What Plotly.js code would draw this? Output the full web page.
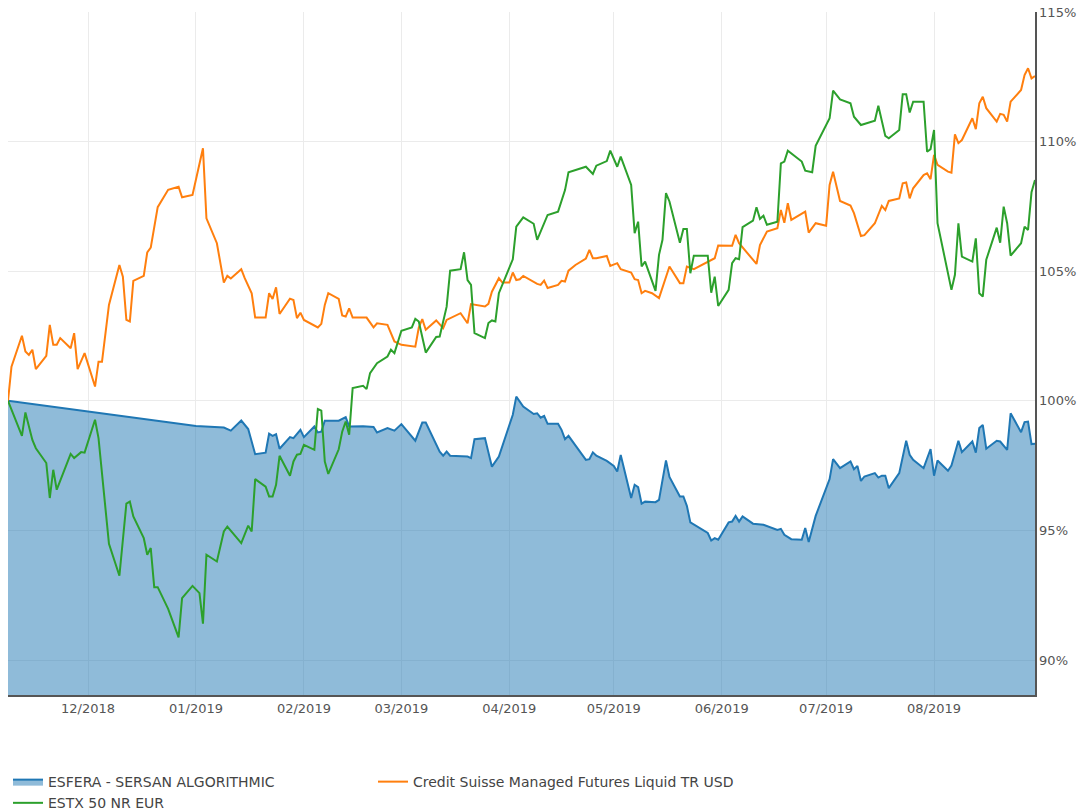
<!DOCTYPE html>
<html>
<head>
<meta charset="utf-8">
<script src="https://cdn.plot.ly/plotly-3.0.1.min.js"></script>
<style>html,body{margin:0;padding:0;background:#fff;}#chart{width:1085px;height:812px;}</style>
</head>
<body>
<div id="chart"></div>
<script>
// ---- Series names ----
const seriesNames = ["ESFERA - SERSAN ALGORITHMIC", "Credit Suisse Managed Futures Liquid TR USD", "ESTX 50 NR EUR"];

// ---- ESFERA - SERSAN ALGORITHMIC ----
const esferaDates = ["2018-11-08","2019-01-01","2019-01-09","2019-01-11","2019-01-14","2019-01-16","2019-01-18","2019-01-21","2019-01-22","2019-01-23","2019-01-24","2019-01-25","2019-01-28","2019-01-29","2019-01-31","2019-02-01","2019-02-04","2019-02-05","2019-02-06","2019-02-07","2019-02-11","2019-02-13","2019-02-14","2019-02-18","2019-02-21","2019-02-22","2019-02-25","2019-02-27","2019-03-01","2019-03-05","2019-03-07","2019-03-08","2019-03-12","2019-03-13","2019-03-14","2019-03-15","2019-03-20","2019-03-21","2019-03-22","2019-03-25","2019-03-27","2019-03-29","2019-04-02","2019-04-03","2019-04-05","2019-04-08","2019-04-09","2019-04-10","2019-04-11","2019-04-12","2019-04-15","2019-04-16","2019-04-17","2019-04-18","2019-04-23","2019-04-24","2019-04-25","2019-04-26","2019-04-29","2019-05-01","2019-05-02","2019-05-03","2019-05-06","2019-05-07","2019-05-08","2019-05-09","2019-05-10","2019-05-13","2019-05-14","2019-05-15","2019-05-16","2019-05-17","2019-05-20","2019-05-21","2019-05-22","2019-05-23","2019-05-28","2019-05-29","2019-05-30","2019-05-31","2019-06-03","2019-06-04","2019-06-05","2019-06-06","2019-06-07","2019-06-10","2019-06-13","2019-06-17","2019-06-18","2019-06-19","2019-06-21","2019-06-24","2019-06-25","2019-06-26","2019-06-28","2019-07-02","2019-07-03","2019-07-05","2019-07-08","2019-07-09","2019-07-10","2019-07-11","2019-07-12","2019-07-15","2019-07-16","2019-07-17","2019-07-18","2019-07-19","2019-07-22","2019-07-24","2019-07-25","2019-07-26","2019-07-29","2019-07-31","2019-08-01","2019-08-02","2019-08-05","2019-08-06","2019-08-08","2019-08-09","2019-08-12","2019-08-13","2019-08-14","2019-08-15","2019-08-16","2019-08-19","2019-08-20","2019-08-22","2019-08-23","2019-08-26","2019-08-27","2019-08-28","2019-08-29","2019-08-30"];
const esferaValues = [100.00,99.03,98.97,98.85,99.24,98.91,97.94,98.00,98.73,98.65,98.71,98.15,98.60,98.56,98.88,98.60,99.01,98.78,98.81,99.23,99.23,99.37,99.01,99.02,98.99,98.78,98.95,98.85,99.10,98.46,99.16,99.16,98.04,97.88,98.04,97.88,97.85,97.79,98.52,98.56,97.46,97.85,99.46,100.16,99.78,99.49,99.52,99.35,99.42,99.11,99.11,98.88,98.52,98.65,97.72,97.75,98.01,97.88,97.68,97.49,97.27,97.91,96.25,96.76,96.67,96.03,96.11,96.09,96.18,96.95,97.70,97.06,96.31,96.31,95.95,95.31,94.90,94.61,94.70,94.64,95.31,95.34,95.56,95.34,95.54,95.26,95.22,95.02,95.06,94.83,94.66,94.64,95.09,94.55,95.56,96.98,97.75,97.40,97.66,97.36,97.49,96.91,97.08,97.21,97.04,97.11,97.11,96.63,97.21,98.46,97.92,97.72,97.40,98.14,97.11,97.70,97.30,97.50,98.46,98.02,98.43,98.00,98.95,99.07,98.15,98.46,98.43,98.11,99.52,98.79,99.18,99.20,98.33,98.34];

// ---- Credit Suisse Managed Futures Liquid TR USD ----
const csDates = ["2018-11-08","2018-11-09","2018-11-12","2018-11-13","2018-11-14","2018-11-15","2018-11-16","2018-11-19","2018-11-20","2018-11-21","2018-11-22","2018-11-23","2018-11-26","2018-11-27","2018-11-28","2018-11-30","2018-12-03","2018-12-04","2018-12-05","2018-12-07","2018-12-10","2018-12-11","2018-12-12","2018-12-13","2018-12-14","2018-12-17","2018-12-18","2018-12-19","2018-12-21","2018-12-24","2018-12-27","2018-12-28","2018-12-31","2019-01-03","2019-01-04","2019-01-07","2019-01-09","2019-01-10","2019-01-11","2019-01-14","2019-01-15","2019-01-17","2019-01-18","2019-01-21","2019-01-22","2019-01-23","2019-01-24","2019-01-25","2019-01-28","2019-01-29","2019-01-30","2019-01-31","2019-02-01","2019-02-05","2019-02-06","2019-02-07","2019-02-08","2019-02-11","2019-02-12","2019-02-13","2019-02-14","2019-02-15","2019-02-19","2019-02-21","2019-02-22","2019-02-25","2019-02-27","2019-03-01","2019-03-05","2019-03-06","2019-03-07","2019-03-08","2019-03-11","2019-03-13","2019-03-14","2019-03-18","2019-03-20","2019-03-21","2019-03-25","2019-03-26","2019-03-27","2019-03-29","2019-03-30","2019-04-01","2019-04-02","2019-04-03","2019-04-04","2019-04-05","2019-04-09","2019-04-10","2019-04-11","2019-04-12","2019-04-15","2019-04-16","2019-04-17","2019-04-18","2019-04-20","2019-04-23","2019-04-24","2019-04-25","2019-04-26","2019-04-29","2019-04-30","2019-05-02","2019-05-03","2019-05-06","2019-05-07","2019-05-08","2019-05-09","2019-05-10","2019-05-12","2019-05-14","2019-05-17","2019-05-20","2019-05-21","2019-05-22","2019-05-24","2019-05-30","2019-05-31","2019-06-04","2019-06-05","2019-06-06","2019-06-11","2019-06-12","2019-06-14","2019-06-17","2019-06-18","2019-06-19","2019-06-20","2019-06-21","2019-06-25","2019-06-26","2019-06-28","2019-07-01","2019-07-02","2019-07-03","2019-07-05","2019-07-08","2019-07-09","2019-07-11","2019-07-12","2019-07-15","2019-07-17","2019-07-18","2019-07-19","2019-07-22","2019-07-23","2019-07-24","2019-07-25","2019-07-26","2019-07-29","2019-07-30","2019-07-31","2019-08-01","2019-08-02","2019-08-05","2019-08-06","2019-08-07","2019-08-08","2019-08-09","2019-08-12","2019-08-13","2019-08-14","2019-08-15","2019-08-16","2019-08-19","2019-08-20","2019-08-21","2019-08-22","2019-08-23","2019-08-26","2019-08-27","2019-08-28","2019-08-29","2019-08-30"];
const csValues = [100.00,101.32,102.51,101.90,101.77,101.97,101.22,101.73,102.93,102.16,102.16,102.42,102.03,102.61,101.22,101.84,100.55,101.51,101.51,103.70,105.24,104.79,103.12,103.06,104.63,104.82,105.73,105.91,107.47,108.14,108.26,107.85,107.94,109.74,107.04,106.08,104.56,104.82,104.72,105.08,104.73,104.15,103.21,103.21,104.15,103.93,104.38,103.35,103.94,103.89,103.19,103.40,103.12,102.83,102.97,103.70,104.15,103.93,103.29,103.25,103.57,103.21,103.21,102.83,102.99,102.93,102.29,102.16,102.09,102.83,103.15,102.74,103.10,102.80,103.12,103.38,102.99,103.73,103.64,103.74,104.21,104.73,104.56,104.56,104.95,104.66,104.69,104.82,104.51,104.47,104.64,104.35,104.47,104.63,104.60,105.02,105.24,105.49,105.82,105.50,105.50,105.59,105.20,105.31,105.08,104.95,104.69,104.66,104.15,104.24,104.15,103.96,105.18,104.54,104.54,105.18,105.08,105.50,105.99,105.98,106.40,106.08,105.28,106.01,106.53,106.66,107.36,106.87,107.62,106.98,107.30,106.49,106.85,106.75,108.33,108.84,107.71,107.53,107.24,106.36,106.39,106.85,107.52,107.36,107.71,107.81,108.39,108.42,107.81,108.20,108.71,108.78,108.55,109.49,109.10,108.84,108.80,110.28,109.94,110.06,110.90,110.48,111.48,111.73,111.29,110.77,111.07,111.03,110.77,111.54,111.99,112.57,112.83,112.44,112.53];

// ---- ESTX 50 NR EUR ----
const estxDates = ["2018-11-08","2018-11-12","2018-11-13","2018-11-15","2018-11-16","2018-11-19","2018-11-20","2018-11-21","2018-11-22","2018-11-26","2018-11-27","2018-11-29","2018-11-30","2018-12-03","2018-12-04","2018-12-07","2018-12-10","2018-12-12","2018-12-13","2018-12-14","2018-12-17","2018-12-18","2018-12-19","2018-12-20","2018-12-21","2018-12-24","2018-12-27","2018-12-28","2018-12-31","2019-01-02","2019-01-03","2019-01-04","2019-01-07","2019-01-09","2019-01-10","2019-01-14","2019-01-16","2019-01-17","2019-01-18","2019-01-21","2019-01-22","2019-01-23","2019-01-24","2019-01-25","2019-01-28","2019-01-29","2019-01-30","2019-01-31","2019-02-01","2019-02-04","2019-02-05","2019-02-06","2019-02-07","2019-02-08","2019-02-11","2019-02-12","2019-02-13","2019-02-14","2019-02-15","2019-02-18","2019-02-19","2019-02-20","2019-02-22","2019-02-25","2019-02-26","2019-02-27","2019-03-01","2019-03-04","2019-03-05","2019-03-06","2019-03-08","2019-03-11","2019-03-12","2019-03-14","2019-03-15","2019-03-18","2019-03-19","2019-03-20","2019-03-21","2019-03-22","2019-03-25","2019-03-26","2019-03-27","2019-03-28","2019-03-29","2019-04-02","2019-04-03","2019-04-05","2019-04-08","2019-04-09","2019-04-12","2019-04-15","2019-04-17","2019-04-18","2019-04-23","2019-04-25","2019-04-26","2019-04-29","2019-04-30","2019-05-02","2019-05-03","2019-05-06","2019-05-07","2019-05-08","2019-05-09","2019-05-10","2019-05-13","2019-05-14","2019-05-15","2019-05-16","2019-05-17","2019-05-20","2019-05-21","2019-05-22","2019-05-23","2019-05-24","2019-05-28","2019-05-29","2019-05-30","2019-05-31","2019-06-03","2019-06-04","2019-06-05","2019-06-06","2019-06-07","2019-06-10","2019-06-11","2019-06-12","2019-06-13","2019-06-14","2019-06-17","2019-06-18","2019-06-19","2019-06-20","2019-06-24","2019-06-25","2019-06-27","2019-06-28","2019-07-02","2019-07-03","2019-07-05","2019-07-08","2019-07-09","2019-07-11","2019-07-15","2019-07-16","2019-07-18","2019-07-19","2019-07-22","2019-07-23","2019-07-24","2019-07-25","2019-07-26","2019-07-29","2019-07-30","2019-07-31","2019-08-01","2019-08-02","2019-08-06","2019-08-07","2019-08-08","2019-08-09","2019-08-12","2019-08-13","2019-08-14","2019-08-15","2019-08-16","2019-08-19","2019-08-20","2019-08-21","2019-08-22","2019-08-23","2019-08-26","2019-08-27","2019-08-28","2019-08-29","2019-08-30"];
const estxValues = [100.00,98.65,99.55,98.49,98.17,97.60,96.25,97.34,96.57,97.95,97.79,98.02,98.00,99.27,98.56,94.48,93.25,96.03,96.11,95.54,94.70,94.06,94.32,92.81,92.81,91.97,90.87,92.39,92.86,92.58,91.40,94.06,93.80,94.96,95.15,94.51,95.18,94.96,96.98,96.69,96.31,96.31,96.76,97.88,97.11,97.66,97.92,97.95,98.30,98.11,99.68,99.62,97.66,97.18,98.13,98.81,99.20,98.69,100.49,100.58,100.45,101.07,101.45,101.71,101.97,101.84,102.70,102.83,103.16,103.06,101.86,102.46,102.48,103.63,105.02,105.08,105.73,104.66,104.47,102.61,102.42,103.00,103.10,103.06,104.15,105.46,106.72,107.08,106.83,106.21,107.17,107.30,108.13,108.82,109.03,108.75,109.07,109.25,109.65,109.03,109.42,108.33,106.47,106.91,105.18,105.37,104.24,105.63,106.21,108.01,107.69,106.10,106.63,106.63,104.92,105.60,105.60,104.17,104.79,103.66,104.28,105.31,105.50,105.46,106.70,106.95,107.47,107.02,107.14,106.79,106.91,109.16,109.23,109.65,109.23,108.88,108.82,109.84,110.90,111.97,111.63,111.48,110.96,110.64,110.81,111.38,110.22,110.13,110.45,111.83,111.83,111.12,111.54,111.54,109.61,109.71,110.45,106.85,104.28,104.86,106.85,105.56,105.37,106.27,104.15,104.02,105.44,106.68,106.10,107.49,106.85,105.60,106.08,106.72,106.59,108.05,108.52];

// ---- Axis ticks ----
const yTickValues = [90, 95, 100, 105, 110, 115];
const yTickLabels = ["90%", "95%", "100%", "105%", "110%", "115%"];

const traces = [
  {
    x: esferaDates, y: esferaValues, name: seriesNames[0], type: "scatter", mode: "lines",
    line: {color: "#1f77b4", width: 2}, fill: "tozeroy", fillcolor: "rgba(31,119,180,0.5)"
  },
  {
    x: csDates, y: csValues, name: seriesNames[1], type: "scatter", mode: "lines",
    line: {color: "#ff7f0e", width: 2}
  },
  {
    x: estxDates, y: estxValues, name: seriesNames[2], type: "scatter", mode: "lines",
    line: {color: "#2ca02c", width: 2}
  }
];

const layout = {
  width: 1085, height: 812,
  margin: {l: 8, r: 50, t: 12, b: 117, autoexpand: false},
  paper_bgcolor: "#ffffff", plot_bgcolor: "#ffffff",
  font: {family: "DejaVu Sans, Verdana, sans-serif", size: 12, color: "#555"},
  showlegend: true,
  hovermode: false,
  xaxis: {
    type: "date",
    range: ["2018-11-08", "2019-08-30"],
    dtick: "M1", tick0: "2018-12-01",
    tickformat: "%m/%Y",
    showgrid: true, gridcolor: "#ebebeb", gridwidth: 1,
    showline: true, linecolor: "#555", linewidth: 2,
    ticks: "", zeroline: false,
    tickfont: {size: 13, color: "#555"}
  },
  yaxis: {
    side: "right",
    range: [88.65, 115],
    tickvals: yTickValues, ticktext: yTickLabels,
    showgrid: true, gridcolor: "#ebebeb", gridwidth: 1,
    showline: true, linecolor: "#555", linewidth: 1.5,
    ticks: "", zeroline: false,
    tickfont: {size: 13, color: "#555"}
  },
  legend: {
    orientation: "h",
    x: 0, xanchor: "left",
    y: -0.104, yanchor: "top",
    entrywidth: 320, entrywidthmode: "pixels",
    font: {size: 14, color: "#444"},
    bgcolor: "rgba(0,0,0,0)",
    traceorder: "normal"
  }
};

Plotly.newPlot("chart", traces, layout, {displayModeBar: false, staticPlot: true});
</script>
</body>
</html>
